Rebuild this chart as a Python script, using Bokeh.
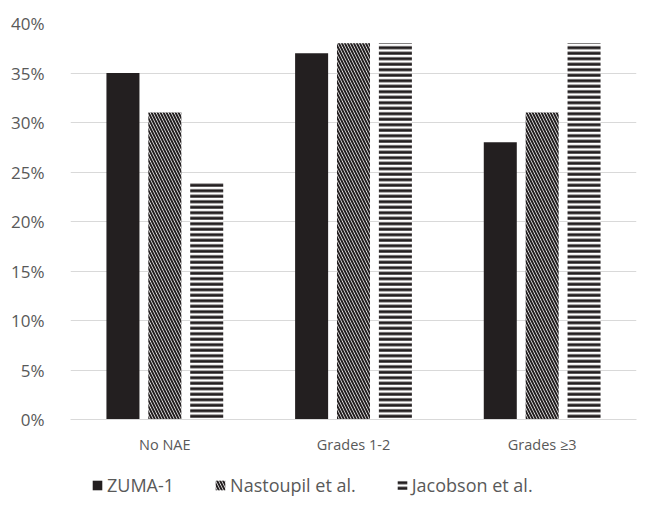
from bokeh.plotting import figure
from bokeh.layouts import column
from bokeh.models import FactorRange, Legend, LegendItem, NumeralTickFormatter, FixedTicker
from bokeh.transform import dodge
from bokeh.embed import file_html
from bokeh.resources import INLINE
from bokeh.models import ColumnDataSource

categories = ["No NAE", "Grades 1-2", "Grades \u22653"]
series = ["ZUMA-1", "Nastoupil et al.", "Jacobson et al."]
zuma = [0.35, 0.37, 0.28]
nastoupil = [0.31, 0.38, 0.31]
jacobson = [0.24, 0.38, 0.38]
y_ticks = [0, 0.05, 0.10, 0.15, 0.20, 0.25, 0.30, 0.35, 0.40]

src = ColumnDataSource(dict(cat=categories, zuma=zuma, nast=nastoupil, jac=jacobson))

FONT = "Open Sans"
GRAY = "#595959"
DARK = "#231f20"

STYLES = [
    dict(fill_color=DARK, line_color=None),
    dict(fill_color="white", line_color=None, hatch_pattern="\\", hatch_color=DARK,
         hatch_scale=6, hatch_weight=2),
    dict(fill_color="white", line_color=None, hatch_pattern="-", hatch_color=DARK,
         hatch_scale=5.5, hatch_weight=3),
]
cols = ["zuma", "nast", "jac"]
offsets = [-0.222, 0.0, 0.222]

p = figure(width=658, height=469,
           x_range=FactorRange(*categories, range_padding=0),
           y_range=(0, 0.40), output_backend="svg", toolbar_location=None,
           min_border_left=70, min_border_right=22, min_border_top=23, min_border_bottom=50)
p.outline_line_color = None

w = 0.175
for c, off, st in zip(cols, offsets, STYLES):
    p.vbar(x=dodge("cat", off, range=p.x_range), top=c, width=w, source=src, **st)

p.yaxis.ticker = FixedTicker(ticks=y_ticks)
p.yaxis.formatter = NumeralTickFormatter(format="0%")
p.yaxis.axis_line_color = None
p.yaxis.major_tick_line_color = None
p.yaxis.minor_tick_line_color = None
p.yaxis.major_label_standoff = 20
p.yaxis.major_label_text_font = FONT
p.yaxis.major_label_text_font_size = "17px"
p.yaxis.major_label_text_color = GRAY

p.xaxis.axis_line_color = "#d9d9d9"
p.xaxis.major_tick_line_color = None
p.xaxis.minor_tick_line_color = None
p.xaxis.major_label_standoff = 9
p.xaxis.major_label_text_font = FONT
p.xaxis.major_label_text_font_size = "14.5px"
p.xaxis.major_label_text_color = GRAY

p.xgrid.grid_line_color = None
p.ygrid.grid_line_color = "#d9d9d9"
p.ygrid.grid_line_width = 1

# legend strip below the chart (one hidden sample per series, outside the view)
pl = figure(width=658, height=48, output_backend="svg", toolbar_location=None,
            x_axis_type=None, y_axis_type=None, x_range=(0, 1), y_range=(0, 1),
            min_border=0)
pl.outline_line_color = None
pl.grid.visible = False
items = []
for name, st in zip(series, STYLES):
    r = pl.vbar(x=[-5], top=[-5], bottom=[-6], width=0.1, **st)
    items.append(LegendItem(label=name, renderers=[r]))
legend = Legend(items=items, orientation="horizontal", location=(21, 20),
                label_text_font=FONT, label_text_font_size="18px", label_text_color=GRAY,
                glyph_width=12, glyph_height=12, label_standoff=4, spacing=40,
                padding=0, margin=0, border_line_color=None, background_fill_alpha=0)
pl.add_layout(legend, "center")

layout = column(p, pl, spacing=0)
open("out.html", "w").write(file_html(layout, INLINE))
